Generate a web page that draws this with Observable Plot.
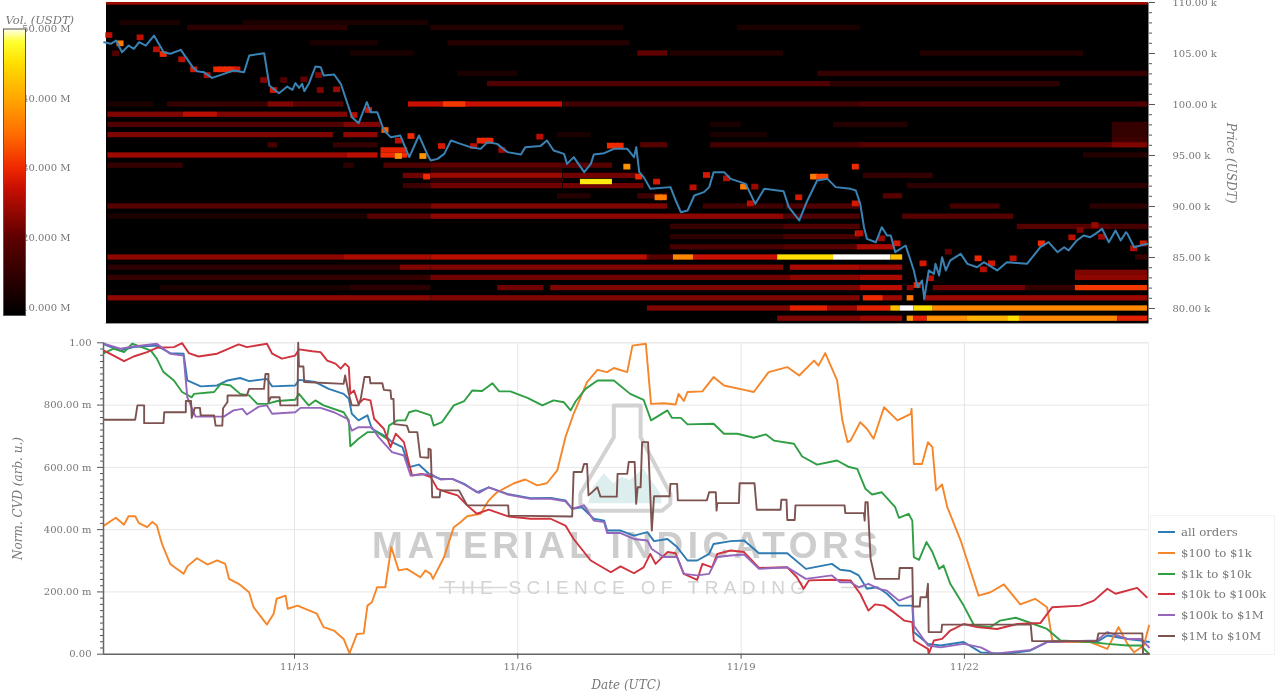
<!DOCTYPE html>
<html><head><meta charset="utf-8">
<script src="https://cdn.jsdelivr.net/npm/d3@7"></script>
<script src="https://cdn.jsdelivr.net/npm/@observablehq/plot@0.6"></script>
<style>
html,body{margin:0;padding:0;background:#fff;width:1280px;height:696px;overflow:hidden}
#page{position:relative;width:1280px;height:696px;filter:blur(0.55px)}
#page svg{position:absolute;left:0;overflow:visible;background:transparent}
.wm1 text{letter-spacing:4.5px}
.wm2 text{letter-spacing:5.3px}
.cell{filter:blur(0.7px)}
#legend{position:absolute;left:1150px;top:515px;width:125px;height:140px;border:1px solid #f2f2f2;box-sizing:border-box;font:11.7px "DejaVu Serif";color:#777}
#legend div{position:absolute;left:30px;line-height:14px;white-space:nowrap}
#legend i{position:absolute;left:-23px;top:6px;width:17px;height:2px}
</style></head><body><div id="page"></div>
<script>
// Tick labels
const dateTicks = [13,16,19,22];
const priceTicks = [80,85,90,95,100,105,110];
const cvdTicks = [0,0.2,0.4,0.6,0.8,1];
const volumeTicks = [10,20,30,40,50];
const seriesNames = ["all orders","$100 to $1k","$1k to $10k","$10k to $100k","$100k to $1M","$1M to $10M"];
const seriesColors = ["#2f7bb3","#f5862a","#2f9e44","#d0323e","#9467bd","#7d5350"];
// Colour bar of the order-book heat map (USDT volume, millions)
const volumeStops = [8.85,20,27,30,35,40,45,48,50];
const volumeColors = ["#000000","#600000","#c81000","#f02a00","#ff7000","#ffa800","#ffe000","#ffff30","#ffffff"];
// Order-book bands: [price k, from day, to day, volume M]
const heatBands = [
[110,10.47,24.47,24],[108,10.66,11.47,12],[108,12.31,14.8,12],[107.5,11.56,13.71,14],[107.5,14.83,17.42,13],[107.5,18.95,20.6,12],
[106,13.21,14.12,12],[106,15.06,17.51,13],[105,13.75,14.6,12],[105,17.61,18.01,20],[105,18.05,19.57,13],[105,21.41,23.6,13],
[103,15.19,16,12],[103,20.03,24.46,15],[102,15.59,20.2,18],[102,20.2,23.29,14],
[100,10.49,11.11,12],[100,11.29,12.64,15],[100,12.64,12.99,22],[100,12.99,13.66,19],[100,14.53,16.6,27],[100,15,15.3,31],[100,16.61,20.6,16],[100,20.6,24.46,18],
[99,10.49,11.5,22],[99,11.5,11.97,26],[99,11.97,13.71,22],
[98,10.49,13.66,18],[98,13.66,14.16,22],[98,18.59,19,12],[98,20.24,21.24,13],[98,23.99,24.46,15],[97.5,23.99,24.46,15],[97,23.99,24.46,15],[96.5,23.99,24.46,16],
[97,10.49,13.52,22],[97,13.66,14.12,23],[97,16.53,16.98,12],[97,18.59,19.35,12],
[96,12.64,12.77,17],[96,13.52,14.12,15],[96,17.65,18.01,19],[96,18.59,20.6,17],[96,20.6,23.99,19],[96,23.99,24.46,22],
[95,10.49,13.71,24],[95,13.71,14.12,26],[95,14.16,14.52,30],[95.5,14.16,14.52,29],[95,23.6,24.46,13],
[94,10.49,11.5,15],[94,13.66,13.8,14],[94,14.2,14.83,18],[94,14.83,16.6,20],[94,16.6,17.27,19],
[93.5,14.83,16.6,14],[93,14.46,14.83,21],[93,14.83,16.6,24],[93,16.61,17.61,21],[93,20.64,21.58,15],
[92.5,14.83,16.61,14],[92,14.46,14.83,16],[92,14.83,16.6,21],[92,16.61,17.69,21],[92,21.23,24.46,14],[92.4,16.84,17.27,46],
[91,16.53,16.98,13],[91,17.61,18.01,16],[91,20.91,21.17,19],
[90,10.49,14.83,19],[90,14.83,18.01,22],[90,18.49,19.57,16],[90,19.6,20.6,18],[90,21.81,22.48,17],[90,23.69,24.46,14],
[89,10.49,13.98,12],[89,13.98,14.83,19],[89,14.83,19.57,23],[89,19.57,20.6,18],[89,21.17,22.66,19],
[88,18.05,19.57,15],[88,19.57,20.6,18],[88,22.71,23.96,19],[88,23.96,24.46,17],
[87,18.05,19.57,14],[87,19.57,20.6,17],[86,18.05,19.57,17],[86,19.57,20.6,19],[86,20.56,21.05,25],
[85,10.49,13.66,23],[85,13.66,14.83,25],[85,14.83,17.74,26],[85,17.74,18.09,19],[85,18.09,18.36,37],[85,18.36,19.49,27],[85,19.49,20.24,45],[85,20.24,21.01,50],[85,21.01,21.17,42],[85,24.3,24.46,15],
[84,10.49,14.42,14],[84,14.42,14.83,22],[84,14.83,19.57,22],[84,19.66,20.6,25],[84,20.6,21.17,24],
[83,10.49,14.83,15],[83,14.83,19.66,21],[83,19.66,20.6,23],[83,20.6,21.17,25],[83.5,23.49,24.46,22],[83,23.49,24.46,23],
[82,11.2,13.75,12],[82,13.75,14.83,14],[82,15.73,16.35,21],[82,16.44,20.6,22],[82,20.6,21.17,26],[82,21.23,21.32,23],[82,21.58,22.82,21],[82,22.82,23.49,15],[82,23.49,24.46,31],
[81,10.49,14.83,23],[81,14.83,20.6,22],[81,20.64,20.91,30],[81,20.91,21.17,24],[81,21.23,21.32,36],[81,21.45,24.46,24],
[80,17.74,19.66,22],[80,19.66,20.16,29],[80,20.16,20.56,24],[80,20.56,21.01,29],[80,21.01,21.14,42],[80,21.14,21.32,50],[80,21.32,21.58,45],[80,21.58,24.46,37],
[79,19.49,20.6,22],[79,20.6,21.17,24],[79,21.23,21.32,39],[79,21.32,21.5,29],[79,21.5,22.04,38],[79,22.04,22.58,41],[79,22.58,22.75,45],[79,22.75,24.06,37],[79,24.06,24.46,29]
];
// Single walls next to the price: [day, price k, volume M]
const walls = [
[10.51,106.76,26],[10.66,105.95,36],[10.6,104.97,18],[10.93,106.54,26],[11.15,105.36,26],[11.24,104.9,30],[11.49,104.38,26],[11.65,103.4,28],[11.83,102.84,26],[11.96,103.4,30],[12.03,103.4,30],[12.1,103.4,30],[12.17,103.4,30],[12.23,103.4,28],[12.59,102.35,22],[12.72,101.37,28],[12.86,102.35,18],[13.13,102.42,20],[13.33,102.84,22],[13.35,101.37,22],[13.57,101.44,24],[13.8,98.92,26],[14,99.41,28],[14.22,97.45,34],[14.4,96.41,26],[14.57,96.86,30],[14.4,94.9,38],[14.73,94.9,38],[14.78,92.88,30],
[14.98,95.88,28],[15.41,95.88,26],[15.5,96.41,30],[15.57,96.41,30],[15.63,96.41,30],[15.79,95.49,24],[16.3,96.8,26],[17.25,95.92,30],[17.32,95.92,30],[17.38,95.92,30],[17.47,93.86,38],[17.63,92.88,30],[17.87,92.39,28],[17.89,90.85,36],[17.96,90.85,36],[18.36,91.83,26],[18.54,93.04,28],[18.81,92.71,26],[19.04,91.9,36],[19.19,91.9,24],[19.13,90.26,26],[19.78,90.85,28],[19.98,92.88,36],[20.06,92.88,32],[20.13,92.88,32],[20.54,93.86,30],[20.54,90.26,28],[20.58,87.32,28],
[20.6,87.32,26],[20.89,86.83,24],[21.1,86.34,28],[21.45,84.38,28],[21.37,82.25,30],[21.55,82.91,26],[21.79,85.52,20],[22.19,84.87,30],[22.37,84.38,28],[22.66,84.87,26],[22.26,83.79,26],[23.04,86.34,30],[23.45,86.93,26],[23.76,88.14,24],[24.28,85.85,26],[24.41,86.34,28],[23.56,87.65,22],[23.85,86.99,24]
];
// Price: [day, price k]
const priceLine = [
[10.44,106.11],[10.53,105.95],[10.6,106.27],[10.68,105.13],[10.77,105.78],[10.84,105.46],[10.91,106.11],[11,105.78],[11.11,106.76],[11.24,105.13],[11.33,104.97],[11.47,105.36],[11.63,103.66],[11.69,103.27],[11.78,103.17],[11.89,102.61],[12.05,103],[12.18,103.33],[12.32,103.17],[12.39,104.8],[12.59,105.03],[12.66,101.86],[12.79,101.11],[12.9,101.76],[12.97,101.44],[13.01,102.1],[13.06,101.63],[13.1,102.03],[13.13,101.31],[13.19,102.03],[13.28,103.73],[13.35,103.66],[13.39,102.84],[13.53,102.94],[13.62,102.03],[13.77,98.76],[13.86,98.17],[13.97,100.23],[14.02,99.25],[14.11,99.25],[14.2,97.45],[14.29,96.8],[14.42,96.96],[14.54,94.84],[14.67,96.96],[14.8,94.84],
[14.83,94.51],[14.92,94.67],[15.01,95.16],[15.1,96.47],[15.23,96.14],[15.36,95.82],[15.5,95.65],[15.59,96.31],[15.72,96.14],[15.86,95.33],[16.04,95.1],[16.1,95.82],[16.3,95.92],[16.39,96.47],[16.48,95.49],[16.62,95.16],[16.66,94.18],[16.75,94.84],[16.89,93.37],[16.98,94.18],[17.02,95.1],[17.16,95.23],[17.29,95.65],[17.47,95.65],[17.56,94.84],[17.59,95.82],[17.63,93.37],[17.69,92.88],[17.78,91.73],[18.05,91.9],[18.12,90.59],[18.19,89.44],[18.28,89.61],[18.37,91.08],[18.5,91.41],[18.57,91.9],[18.63,93.37],[18.77,93.37],[18.86,92.71],[19.06,92.22],[19.19,90.26],[19.31,91.73],[19.57,91.5],[19.64,89.93],[19.78,88.63],[19.89,90.59],[20.02,92.55],[20.16,92.71],[20.27,91.9],[20.47,91.73],
[20.54,91.57],[20.6,90.26],[20.65,87.97],[20.69,86.83],[20.81,86.5],[20.89,87.97],[20.96,87.16],[21.01,87.16],[21.07,85.52],[21.21,86.18],[21.32,83.73],[21.37,82.09],[21.43,82.75],[21.46,80.95],[21.52,83.73],[21.59,83.4],[21.61,84.38],[21.66,83.24],[21.7,85.03],[21.75,83.73],[21.81,84.71],[21.88,85.03],[21.95,85.36],[22.04,84.38],[22.17,84.05],[22.26,84.54],[22.44,83.73],[22.57,84.54],[22.84,84.38],[23.02,86.01],[23.13,86.5],[23.25,85.52],[23.34,86.01],[23.4,85.69],[23.51,86.67],[23.6,87.16],[23.69,86.99],[23.76,87.32],[23.85,87.81],[23.94,86.5],[24.03,87.65],[24.1,86.67],[24.17,87.48],[24.19,87.32],[24.28,86.01],[24.46,86.34]
];
// Normalised CVD by order size: [day, value]
const allOrders = [[10.44,.995],[10.66,.975],[10.84,.986],[11.15,.991],[11.33,.967],[11.51,.965],[11.56,.879],[11.74,.86],[11.96,.863],[12.1,.879],[12.27,.887],[12.39,.877],[12.63,.884],[12.7,.86],[13.01,.863],[13.06,.881],[13.28,.874],[13.46,.852],[13.66,.836],[13.73,.82],[13.77,.772],[13.86,.751],[13.98,.767],[14.04,.724],[14.24,.697],[14.31,.681],[14.45,.665],[14.54,.601],[14.67,.609],[14.83,.574],[14.96,.563],[15.12,.563],[15.28,.547],[15.45,.52],[15.61,.536],[15.86,.515],[16.17,.501],[16.44,.502],[16.64,.494],[16.73,.467],[16.86,.472],[17.02,.435],[17.16,.429],[17.2,.397],[17.38,.397],[17.56,.381],[17.74,.392],[17.83,.363],[18.01,.37],[18.14,.344],[18.28,.301],[18.41,.301],[18.57,.322],[18.63,.354],[18.86,.363],[19.04,.365],[19.24,.324],[19.62,.324],[19.87,.274],[20.22,.29],[20.33,.271],[20.47,.267],[20.58,.253],[20.69,.21],[20.83,.215],[20.96,.194],[21.12,.156],[21.3,.156],[21.32,.071],[21.51,.033],[21.68,.028],[21.99,.039],[22.22,.006],[22.57,.001],[22.89,.012],[23.11,.039],[23.78,.039],[23.92,.06],[24.19,.049],[24.37,.044],[24.48,.039]];
const usd100to1k = [[10.44,.413],[10.6,.438],[10.71,.416],[10.77,.443],[10.86,.443],[10.91,.421],[11.02,.408],[11.09,.425],[11.15,.413],[11.22,.354],[11.33,.29],[11.51,.258],[11.56,.282],[11.69,.308],[11.83,.288],[11.96,.301],[12.07,.29],[12.12,.242],[12.25,.226],[12.39,.199],[12.45,.151],[12.63,.095],[12.72,.13],[12.76,.178],[12.88,.188],[12.91,.146],[13.04,.156],[13.3,.13],[13.39,.087],[13.53,.076],[13.66,.049],[13.74,.003],[13.84,.065],[13.93,.067],[13.98,.156],[14.04,.167],[14.11,.215],[14.22,.215],[14.3,.344],[14.4,.269],[14.51,.274],[14.69,.247],[14.76,.269],[14.83,.258],[14.86,.242],[15.01,.312],[15.14,.408],[15.23,.424],[15.32,.443],[15.5,.451],[15.61,.494],[15.72,.52],[15.95,.549],[16.1,.561],[16.26,.542],[16.39,.549],[16.53,.59],[16.64,.697],[16.75,.772],[16.93,.874],[17.07,.913],[17.2,.906],[17.29,.919],[17.47,.906],[17.54,.991],[17.72,.997],[17.79,.804],[17.96,.806],[18.12,.802],[18.16,.836],[18.23,.813],[18.28,.842],[18.48,.844],[18.63,.89],[18.77,.863],[19.04,.849],[19.17,.842],[19.37,.906],[19.62,.922],[19.78,.895],[19.98,.943],[20.04,.927],[20.13,.967],[20.29,.879],[20.36,.751],[20.43,.681],[20.47,.686],[20.6,.745],[20.69,.724],[20.78,.692],[20.92,.793],[21.1,.751],[21.28,.772],[21.29,.788],[21.32,.611],[21.43,.611],[21.51,.681],[21.57,.665],[21.62,.526],[21.7,.545],[21.77,.472],[21.95,.365],[22.19,.188],[22.35,.199],[22.53,.224],[22.75,.16],[22.95,.178],[23.11,.151],[23.18,.044],[23.29,.039],[23.69,.039],[23.92,.017],[24.07,.087],[24.19,.033],[24.28,.006],[24.41,.028],[24.48,.092]];
const usd1kto10k = [[10.44,.967],[10.57,.981],[10.71,.97],[10.82,.997],[10.93,.988],[11.07,.975],[11.15,.949],[11.24,.906],[11.38,.879],[11.49,.842],[11.62,.825],[11.65,.836],[11.92,.842],[12.01,.868],[12.14,.863],[12.27,.836],[12.39,.831],[12.5,.804],[12.63,.804],[12.77,.813],[13.01,.817],[13.06,.836],[13.19,.799],[13.28,.815],[13.39,.799],[13.66,.777],[13.73,.751],[13.75,.668],[13.86,.692],[13.98,.713],[14.11,.713],[14.24,.692],[14.27,.734],[14.38,.751],[14.49,.751],[14.54,.777],[14.63,.783],[14.83,.767],[14.87,.734],[14.98,.745],[15.14,.799],[15.28,.813],[15.39,.847],[15.52,.845],[15.66,.87],[15.75,.844],[15.9,.844],[16.13,.823],[16.33,.799],[16.48,.815],[16.62,.809],[16.71,.783],[16.78,.813],[16.91,.852],[17.07,.879],[17.29,.879],[17.51,.836],[17.69,.817],[17.79,.751],[18.01,.783],[18.07,.759],[18.19,.759],[18.28,.738],[18.63,.74],[18.77,.708],[18.95,.708],[19.17,.695],[19.33,.706],[19.44,.686],[19.71,.676],[19.82,.635],[20.02,.609],[20.29,.622],[20.45,.601],[20.56,.595],[20.67,.531],[20.76,.513],[20.89,.52],[21.07,.472],[21.12,.438],[21.25,.451],[21.3,.429],[21.32,.312],[21.39,.303],[21.49,.36],[21.57,.328],[21.66,.274],[21.72,.285],[21.81,.226],[21.99,.156],[22.13,.092],[22.35,.087],[22.48,.108],[22.69,.117],[22.93,.097],[23.11,.081],[23.29,.044],[23.69,.039],[23.92,.033],[24.19,.028],[24.37,.028],[24.48,.001]];
const usd10kto100k = [[10.44,.975],[10.57,.959],[10.71,.941],[10.84,.956],[11.02,.97],[11.15,.984],[11.38,.986],[11.49,.999],[11.58,.967],[11.71,.956],[11.96,.965],[12.25,.995],[12.36,.986],[12.63,.997],[12.7,.965],[12.83,.949],[13.01,.959],[13.06,.979],[13.24,.973],[13.35,.97],[13.44,.943],[13.55,.933],[13.62,.917],[13.68,.933],[13.73,.922],[13.75,.836],[13.8,.847],[13.86,.804],[13.93,.82],[14.02,.815],[14.07,.756],[14.2,.724],[14.29,.665],[14.36,.708],[14.47,.681],[14.54,.611],[14.58,.574],[14.71,.579],[14.83,.569],[14.92,.531],[15.05,.52],[15.19,.51],[15.32,.478],[15.45,.451],[15.61,.464],[15.88,.442],[16.17,.435],[16.44,.435],[16.64,.413],[16.75,.37],[16.98,.301],[17.25,.263],[17.38,.282],[17.56,.26],[17.69,.279],[17.78,.322],[17.85,.29],[18.01,.328],[18.12,.324],[18.23,.258],[18.41,.239],[18.48,.29],[18.61,.279],[18.68,.322],[18.86,.333],[19.04,.328],[19.24,.277],[19.62,.279],[19.75,.247],[19.84,.21],[19.91,.237],[20.22,.239],[20.47,.237],[20.6,.194],[20.71,.14],[20.8,.16],[20.92,.156],[21.05,.135],[21.19,.108],[21.3,.103],[21.32,.044],[21.51,.017],[21.52,.001],[21.59,.044],[21.7,.049],[21.81,.076],[21.99,.097],[22.17,.087],[22.44,.081],[22.71,.097],[23.02,.1],[23.18,.151],[23.56,.156],[23.74,.172],[23.92,.21],[24.03,.194],[24.32,.213],[24.45,.183]];
const usd100kto1m = [[10.44,.997],[10.66,.981],[10.84,.988],[11.15,.997],[11.33,.965],[11.51,.959],[11.56,.825],[11.67,.763],[11.92,.763],[12.05,.763],[12.18,.783],[12.3,.788],[12.36,.77],[12.52,.795],[12.63,.799],[12.7,.772],[13.01,.777],[13.08,.791],[13.35,.791],[13.53,.777],[13.71,.756],[13.77,.718],[13.86,.729],[14.04,.729],[14.13,.697],[14.31,.649],[14.47,.638],[14.56,.574],[14.83,.579],[14.96,.561],[15.12,.563],[15.28,.545],[15.48,.518],[15.61,.536],[15.86,.513],[16.17,.499],[16.44,.499],[16.64,.491],[16.73,.467],[16.89,.478],[17.02,.429],[17.16,.424],[17.2,.389],[17.38,.389],[17.56,.37],[17.74,.365],[17.8,.338],[17.96,.312],[18.14,.312],[18.23,.258],[18.41,.253],[18.57,.258],[18.68,.312],[18.86,.317],[19.04,.32],[19.24,.274],[19.62,.279],[19.87,.242],[20.22,.253],[20.33,.231],[20.47,.231],[20.58,.215],[20.71,.226],[20.85,.21],[20.96,.204],[21.12,.172],[21.3,.188],[21.32,.092],[21.51,.028],[21.68,.022],[21.99,.033],[22.22,.022],[22.39,.001],[22.57,.006],[22.89,.014],[23.11,.039],[23.78,.044],[23.92,.071],[24.19,.049],[24.37,.049],[24.48,.022]];
const usd1mto10m = [[10.44,.753],[10.86,.753],[10.89,.799],[10.98,.799],[10.98,.742],[11.24,.742],[11.25,.777],[11.54,.777],[11.54,.813],[11.61,.813],[11.62,.759],[11.66,.791],[11.73,.791],[11.74,.767],[11.92,.767],[11.94,.734],[12.03,.734],[12.04,.79],[12.1,.81],[12.1,.831],[12.36,.831],[12.39,.852],[12.59,.852],[12.61,.9],[12.65,.9],[12.65,.809],[12.68,.825],[12.8,.825],[12.81,.799],[13.04,.799],[13.05,1],[13.06,.924],[13.12,.924],[13.13,.874],[13.66,.868],[13.68,.895],[13.73,.836],[13.77,.799],[13.86,.799],[13.89,.82],[13.94,.89],[14.01,.89],[14.02,.87],[14.18,.87],[14.2,.849],[14.29,.847],[14.3,.82],[14.33,.82],[14.34,.739],[14.51,.734],[14.54,.713],[14.65,.713],[14.69,.633],[14.8,.631],[14.8,.66],[14.83,.657],[14.85,.504],[14.95,.504],[14.96,.526],[15.21,.526],[15.32,.478],[15.87,.478],[15.88,.445],[16.73,.442],[16.75,.585],[16.86,.585],[16.89,.611],[16.93,.611],[16.95,.51],[17.07,.536],[17.11,.506],[17.33,.506],[17.34,.579],[17.47,.579],[17.49,.617],[17.57,.617],[17.59,.483],[17.61,.536],[17.65,.536],[17.67,.681],[17.75,.681],[17.78,.51],[17.8,.397],[17.83,.507],[18.04,.507],[18.05,.547],[18.14,.547],[18.15,.494],[18.54,.494],[18.57,.52],[18.66,.52],[18.67,.461],[18.68,.485],[18.97,.485],[18.98,.549],[19.18,.549],[19.21,.464],[19.53,.464],[19.54,.496],[19.61,.496],[19.62,.431],[19.72,.431],[19.73,.478],[20.39,.478],[20.4,.453],[20.65,.453],[20.66,.429],[20.67,.488],[20.7,.488],[20.74,.306],[20.8,.242],[21.12,.242],[21.13,.277],[21.3,.277],[21.31,.153],[21.4,.153],[21.41,.183],[21.49,.183],[21.51,.226],[21.52,.071],[21.69,.071],[21.7,.095],[22.89,.095],[22.91,.042],[23.78,.042],[23.8,.067],[24.39,.067],[24.4,.001],[24.48,.001]];
// Watermark
const flaskOutline = [[17.29,.799],[17.29,.697],[16.84,.515],[16.84,.483],[16.95,.461],[17.94,.461],[18.05,.483],[18.05,.515],[17.65,.697],[17.65,.799],[17.29,.799]];
const flaskLiquid = [[16.95,.483],[17.02,.536],[17.16,.579],[17.29,.547],[17.4,.568],[17.51,.558],[17.69,.595],[17.92,.515],[17.94,.483]];
const watermarkTitle = "MATERIAL INDICATORS";
const watermarkTagline = "THE SCIENCE OF TRADING";
const watermarkRules = [[[14.95,.214],[15.85,.214]],[[20.35,.214],[20.75,.214]]];

const day = d => new Date(Date.UTC(2025,10,1) + (d-1)*864e5);
const FONT = "DejaVu Serif", TEXT = "#777";
const seriesLists = [allOrders,usd100to1k,usd1kto10k,usd10kto100k,usd100kto1m,usd1mto10m];
const cvdRows = seriesLists.flatMap((list,i)=>list.map(([d,v])=>({date:day(d),value:v,series:seriesNames[i]})));
const fmtPrice = p => p.toFixed(2)+" k";
const fmtCvd = v => v===0?"0.00":v===1?"1.00":(v*1000).toFixed(2)+" m";
const fmtVol = v => v.toFixed(3)+" M";
const minorPrices = d3.range(79,111).filter(p=>p%5);
const minorCvd = d3.range(0,51).map(i=>i/50).filter(v=>Math.round(v*50)%10);

const colorScale = {type:"linear",domain:volumeStops,range:volumeColors,interpolate:"rgb"};

const heat = Plot.plot({
  width:1280,height:330,marginLeft:105.5,marginRight:132,marginTop:2,marginBottom:7,
  style:{fontFamily:FONT,fontSize:"10px",color:TEXT,background:"transparent"},
  x:{type:"utc",domain:[day(10.465),day(24.473)],axis:null},
  y:{domain:[78.53,110],axis:null},
  color:colorScale,
  marks:[
    Plot.frame({fill:"#000",stroke:null}),
    Plot.rect(heatBands,{x1:b=>day(b[1]),x2:b=>day(b[2]),y1:b=>b[0]-.26,y2:b=>b[0]+.26,fill:b=>b[3],clip:true,className:"cell"}),
    Plot.rect(walls,{x1:w=>day(w[0]-.047),x2:w=>day(w[0]+.047),y1:w=>w[1]-.28,y2:w=>w[1]+.28,fill:w=>w[2],className:"cell"}),
    Plot.line(priceLine,{x:p=>day(p[0]),y:p=>p[1],stroke:"#3b82b4",strokeWidth:2,curve:"linear"}),
    Plot.ruleY([78.53],{stroke:"#999"}),
    Plot.axisY({anchor:"right",ticks:minorPrices,tickSize:3,tickFormat:()=>"",label:null,stroke:"#555"}),
    Plot.axisY({anchor:"right",ticks:priceTicks,tickSize:6,tickPadding:18,tickFormat:fmtPrice,label:null,stroke:"#555",fill:TEXT}),
    Plot.text(["Price (USDT)"],{frameAnchor:"right",dx:82,rotate:90,textAnchor:"middle",fontStyle:"italic",fontSize:12,fill:TEXT})
  ]
});
heat.style.top="0px";

const cvd = Plot.plot({
  width:1280,height:366,marginLeft:103,marginRight:132,marginTop:12.3,marginBottom:42.3,
  style:{fontFamily:FONT,fontSize:"10px",color:TEXT,background:"transparent"},
  x:{type:"utc",domain:[day(10.434),day(24.473)],axis:null},
  y:{domain:[0,1],axis:null},
  color:{domain:seriesNames,range:seriesColors},
  marks:[
    Plot.frame({stroke:"#eee"}),
    Plot.gridX(dateTicks.map(day),{stroke:"#e6e6e6",strokeOpacity:1}),
    Plot.gridY(cvdTicks,{stroke:"#e6e6e6",strokeOpacity:1}),
    Plot.areaY(flaskLiquid,{x:f=>day(f[0]),y1:flaskLiquid[0][1],y2:f=>f[1],fill:"#dceeee"}),
    Plot.line(flaskOutline,{x:f=>day(f[0]),y:f=>f[1],stroke:"#d2d2d2",strokeWidth:4}),
    Plot.text([watermarkTitle],{x:()=>day(17.47),y:()=>.346,fontSize:37,fontWeight:700,fontFamily:"Liberation Sans",fill:"#cdcdcd",className:"wm1"}),
    Plot.text([watermarkTagline],{x:()=>day(17.47),y:()=>.214,fontSize:19,fontFamily:"Liberation Sans",fill:"#d2d2d2",className:"wm2"}),
    ...watermarkRules.map(r=>Plot.line(r,{x:f=>day(f[0]),y:f=>f[1],stroke:"#d8d8d8",strokeWidth:1.5})),
    Plot.line(cvdRows,{x:"date",y:"value",stroke:"series",z:"series",strokeWidth:1.9,strokeLinejoin:"round"}),
    Plot.ruleY([0],{stroke:"#666",strokeWidth:1.5}),
    Plot.ruleX([day(10.434)],{stroke:"#666",strokeWidth:1.5}),
    Plot.axisY({anchor:"left",ticks:minorCvd,tickSize:3,tickFormat:()=>"",label:null,stroke:"#555"}),
    Plot.axisY({anchor:"left",ticks:cvdTicks,tickSize:6,tickPadding:6,tickFormat:fmtCvd,label:null,stroke:"#555",fill:TEXT}),
    Plot.axisX({anchor:"bottom",ticks:dateTicks.map(day),tickSize:5,tickPadding:4,tickFormat:d3.utcFormat("%m/%d"),label:null,stroke:"#555",fill:TEXT}),
    Plot.text(["Norm. CVD (arb. u.)"],{frameAnchor:"left",dx:-85,rotate:-90,textAnchor:"middle",fontStyle:"italic",fontSize:12,fill:TEXT}),
    Plot.text(["Date (UTC)"],{frameAnchor:"bottom",dy:35,fontStyle:"italic",fontSize:12,fill:TEXT})
  ]
});
cvd.style.top="330px";

const barStops = d3.range(8.85,50.01,0.2);
const bar = Plot.plot({
  width:76,height:330,marginLeft:3,marginRight:6,marginTop:28.5,marginBottom:15,
  style:{fontFamily:FONT,fontSize:"10px",color:TEXT,background:"transparent"},
  x:{axis:null},
  y:{domain:[8.85,50],axis:null},
  color:colorScale,
  marks:[
    Plot.text(volumeTicks,{y:v=>v,text:fmtVol,frameAnchor:"right",fill:TEXT,fontSize:10}),
    Plot.rect(barStops,{y1:v=>v,y2:v=>v+0.4,fill:v=>v,insetRight:45,clip:true}),
    Plot.frame({stroke:"#555",insetRight:45}),
    Plot.text(["Vol. (USDT)"],{frameAnchor:"top-left",dx:2,dy:-13,fontStyle:"italic",fontSize:11.5,fill:TEXT})
  ]
});
bar.style.top="0px";

const page = document.getElementById("page");
page.append(heat,cvd,bar);
const legend = document.createElement("div");
legend.id="legend";
seriesNames.forEach((name,i)=>{
  const row=document.createElement("div");
  row.style.top=(9+i*20.8)+"px";
  row.textContent=name;
  const swatch=document.createElement("i");
  swatch.style.background=seriesColors[i];
  row.prepend(swatch);
  legend.append(row);
});
page.append(legend);
</script></body></html>
